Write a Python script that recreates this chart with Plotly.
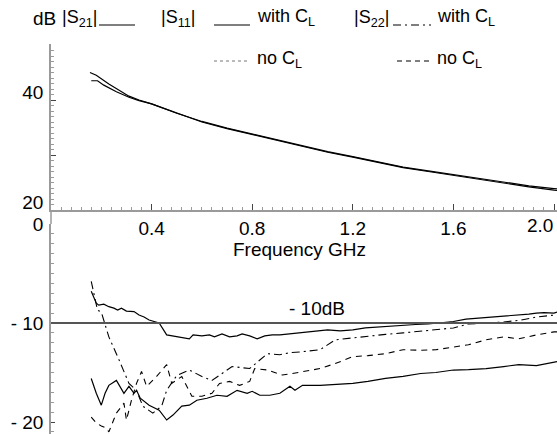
import plotly.graph_objects as go

# ---------------- data ----------------
f_s21 = [0.155, 0.18, 0.23, 0.31, 0.35, 0.4, 0.5, 0.6, 0.7, 0.8, 0.9, 1.0, 1.1, 1.2, 1.3, 1.4,
         1.5, 1.6, 1.7, 1.8, 1.9, 2.0, 2.012]
s21_with = [45.0, 44.5, 42.9, 40.7, 40.0, 39.3, 37.6, 36.1, 34.9, 33.8, 32.7, 31.7, 30.6, 29.7,
            28.7, 27.8, 27.1, 26.4, 25.7, 25.0, 24.4, 23.9, 23.85]
f_s21b = [0.16, 0.185, 0.21, 0.26, 0.31, 0.35, 0.4, 0.5, 0.6, 0.7, 0.8, 0.9, 1.0, 1.1, 1.2, 1.3,
          1.4, 1.5, 1.6, 1.7, 1.8, 1.9, 2.0, 2.012]
s21_no = [43.5, 43.5, 42.7, 41.5, 40.5, 39.9, 39.3, 37.6, 36.0, 34.8, 33.7, 32.6, 31.6, 30.5,
          29.6, 28.6, 27.7, 27.0, 26.3, 25.5, 24.8, 24.2, 23.6, 23.55]

f_s11w = [0.16, 0.18, 0.19, 0.21, 0.23, 0.25, 0.265, 0.28, 0.30, 0.33, 0.35, 0.37, 0.39, 0.43,
          0.46, 0.48, 0.51, 0.55, 0.565, 0.60, 0.63, 0.65, 0.68, 0.71, 0.74, 0.76, 0.79, 0.82,
          0.85, 0.88, 0.91, 0.95, 1.0, 1.05, 1.1, 1.15, 1.2, 1.25, 1.3, 1.35, 1.4, 1.45, 1.5,
          1.55, 1.6, 1.65, 1.7, 1.75, 1.8, 1.85, 1.9, 1.93, 1.96, 2.0, 2.012]
s11_with = [-6.8, -8.0, -8.2, -8.1, -8.35, -8.5, -8.7, -8.5, -8.8, -8.85, -9.2, -9.4, -9.7, -10.0,
            -11.2, -11.3, -11.4, -11.6, -11.2, -11.3, -11.2, -11.4, -11.1, -11.4, -11.3, -11.1,
            -11.3, -11.6, -11.3, -11.2, -11.2, -11.1, -11.0, -10.9, -10.7, -10.8, -10.7, -10.5,
            -10.4, -10.3, -10.25, -10.15, -10.1, -9.95, -9.85, -9.6, -9.5, -9.4, -9.35, -9.2,
            -9.1, -9.0, -8.95, -9.0, -8.9]

f_s11n = [0.16, 0.18, 0.20, 0.215, 0.23, 0.26, 0.29, 0.31, 0.33, 0.34, 0.355, 0.39, 0.43, 0.46,
          0.485, 0.52, 0.55, 0.58, 0.62, 0.66, 0.70, 0.74, 0.78, 0.80, 0.83, 0.87, 0.91, 0.95,
          0.97, 1.0, 1.07, 1.13, 1.2, 1.26, 1.33, 1.4, 1.47, 1.53, 1.6, 1.66, 1.73, 1.8, 1.86,
          1.93, 2.0, 2.012]
s11_no = [-15.6, -17.1, -18.3, -17.1, -16.3, -15.8, -17.1, -16.4, -17.1, -16.8, -17.6, -18.3,
          -18.8, -19.8, -19.3, -18.4, -18.3, -17.8, -17.6, -17.3, -17.4, -16.8, -17.1, -16.9,
          -17.3, -17.3, -17.1, -16.4, -16.8, -16.3, -16.3, -16.2, -16.1, -15.9, -15.6, -15.4,
          -15.1, -15.0, -14.75, -14.7, -14.6, -14.4, -14.2, -14.3, -13.9, -13.9]

f_s22w = [0.16, 0.175, 0.185, 0.20, 0.23, 0.27, 0.31, 0.34, 0.365, 0.405, 0.44, 0.46, 0.50, 0.55,
          0.60, 0.64, 0.68, 0.72, 0.79, 0.83, 0.86, 0.91, 0.95, 1.0, 1.07, 1.13, 1.2, 1.26, 1.33,
          1.4, 1.47, 1.53, 1.6, 1.66, 1.73, 1.8, 1.87, 1.93, 2.0, 2.012]
s22_with = [-5.8, -7.5, -8.7, -8.9, -11.4, -13.7, -16.1, -16.8, -18.4, -19.1, -18.4, -16.8, -15.3,
            -14.75, -15.4, -15.8, -15.1, -14.4, -14.6, -13.7, -13.1, -13.2, -13.0, -12.9, -12.7,
            -11.7, -11.5, -11.3, -11.15, -11.0, -10.85, -10.7, -10.5, -10.1, -10.0, -9.9, -9.7,
            -9.4, -9.2, -9.2]

f_s22n = [0.16, 0.18, 0.20, 0.22, 0.23, 0.26, 0.29, 0.30, 0.32, 0.34, 0.36, 0.38, 0.42, 0.46,
          0.48, 0.52, 0.56, 0.60, 0.64, 0.67, 0.71, 0.75, 0.79, 0.81, 0.86, 0.92, 0.96, 1.0, 1.07,
          1.13, 1.2, 1.26, 1.33, 1.4, 1.47, 1.53, 1.6, 1.66, 1.73, 1.8, 1.86, 1.93, 2.0, 2.012]
s22_no = [-19.5, -20.1, -20.4, -20.6, -21.0, -19.1, -18.1, -19.8, -17.8, -16.1, -14.9, -16.4,
          -15.4, -14.2, -16.1, -15.4, -17.4, -17.4, -17.1, -16.1, -15.9, -16.3, -15.9, -14.6,
          -14.75, -15.25, -15.1, -14.9, -14.6, -14.1, -13.4, -13.3, -13.1, -12.7, -12.75, -12.7,
          -12.4, -12.2, -11.7, -11.4, -11.6, -11.2, -10.9, -10.9]

x_ticks = [0.4, 0.8, 1.2, 1.6, 2.0]
x_ticktext = ["0.4", "0.8", "1.2", "1.6", ""]
x_last_label = "2.0"
top_ticks = [20, 30, 40, 50]
top_ticktext = ["20", "", "40", ""]
bot_ticks = [-20, -10, 0]
bot_ticktext = ["- 20", "- 10", "0"]
ref_level = -10

# ---------------- layout helpers ----------------
W, H = 557, 434
ML = 51
PW = W - ML


def px(x):
    return (x - ML) / PW


def py(y):
    return 1 - y / H


FONT = "Liberation Sans, Arial, sans-serif"
AX = "#9a9a9a"

fig = go.Figure()
black = dict(color="black", width=1.2)
fig.add_trace(go.Scatter(x=f_s21, y=s21_with, mode="lines", line=black, xaxis="x", yaxis="y"))
fig.add_trace(go.Scatter(x=f_s21b, y=s21_no, mode="lines", line=black, xaxis="x", yaxis="y"))
fig.add_trace(go.Scatter(x=f_s11w, y=s11_with, mode="lines", line=black, xaxis="x2", yaxis="y2"))
fig.add_trace(go.Scatter(x=f_s11n, y=s11_no, mode="lines", line=black, xaxis="x2", yaxis="y2"))
fig.add_trace(go.Scatter(x=f_s22w, y=s22_with, mode="lines",
                         line=dict(color="black", width=1.1, dash="8px,4px,2px,4px"),
                         xaxis="x2", yaxis="y2"))
fig.add_trace(go.Scatter(x=f_s22n, y=s22_no, mode="lines",
                         line=dict(color="black", width=1.1, dash="6px,5px"),
                         xaxis="x2", yaxis="y2"))

xr = [0, (W - ML) / 251.5]
fig.update_layout(
    width=W, height=H,
    margin=dict(l=ML, r=0, t=0, b=0, autoexpand=False),
    paper_bgcolor="white", plot_bgcolor="white",
    showlegend=False,
    font=dict(family=FONT, size=19, color="black"),
    xaxis=dict(domain=[0, 1], range=xr, anchor="y", showgrid=False, zeroline=False,
               automargin=False,
               showline=True, linecolor=AX, linewidth=1.5,
               tickvals=x_ticks, ticktext=x_ticktext, ticks="inside", ticklen=6,
               tickcolor="#444", tickwidth=1.2, ticklabeloverflow="allow",
               minor=dict(dtick=0.04, tick0=0, ticks="inside", ticklen=3, tickcolor=AX)),
    yaxis=dict(domain=[py(210), py(44)], range=[20, 20 + 166 / 5.5], anchor="x",
               automargin=False,
               showgrid=False, zeroline=False, showline=True, linecolor=AX, linewidth=1.5,
               tickvals=top_ticks, ticktext=top_ticktext, ticks="inside", ticklen=5,
               tickcolor="#444", ticklabelshift=-8, ticklabelstandoff=2,
               minor=dict(dtick=1, ticks="inside", ticklen=3, tickcolor=AX)),
    xaxis2=dict(domain=[0, 1], range=xr, anchor="y2", visible=False, matches="x",
                automargin=False),
    yaxis2=dict(domain=[0, py(224)], range=[-(434 - 224) / 9.9, 0], anchor="x2",
                automargin=False,
                showgrid=False, zeroline=False, showline=True, linecolor=AX, linewidth=1.5,
                tickvals=bot_ticks, ticktext=bot_ticktext, ticks="inside", ticklen=4,
                tickcolor="#444", ticklabelstandoff=2,
                minor=dict(dtick=1, ticks="inside", ticklen=3, tickcolor=AX)),
)

# continuous left axis through the gap
fig.add_shape(type="line", xref="paper", yref="paper", x0=0, x1=0, y0=py(224), y1=py(210),
              line=dict(color=AX, width=1.5))
# -10 dB reference line
fig.add_shape(type="line", xref="paper", yref="y2", x0=0, x1=1, y0=ref_level, y1=ref_level,
              line=dict(color="#555555", width=2))


def txt(x, y, s, anchor="left", size=18):
    fig.add_annotation(x=px(x), y=py(y), xref="paper", yref="paper", text=s, showarrow=False,
                       xanchor=anchor, yanchor="middle", font=dict(size=size))


def seg(x0, x1, y, dash="solid", color="black", width=1.2):
    fig.add_shape(type="line", xref="paper", yref="paper", x0=px(x0), x1=px(x1), y0=py(y),
                  y1=py(y), line=dict(color=color, width=width, dash=dash))


# last x tick label (kept inside the page, as in the reference)
fig.add_annotation(x=2.0, y=py(225), xref="x", yref="paper", text=x_last_label,
                   showarrow=False, xanchor="center", yanchor="middle", xshift=-14,
                   font=dict(size=19))
# axis title and reference label
txt(299, 250, "Frequency GHz", anchor="center", size=19)
txt(317, 308, "- 10dB", anchor="center", size=19)

# legend-like header
txt(31, 19, "dB", size=19)
txt(60, 18, "|S<sub>21</sub>|")
seg(99, 135, 25)
txt(159, 18, "|S<sub>11</sub>|")
seg(214, 250, 25)
txt(255, 17, "with C<sub>L</sub>")
txt(352, 18, "|S<sub>22</sub>|")
seg(393, 431, 25, dash="8px,4px,2px,4px")
txt(435, 17, "with C<sub>L</sub>")
seg(214, 250, 61, dash="dot", color="#777", width=1)
txt(255, 59, "no C<sub>L</sub>")
seg(397, 430, 61, dash="5px,4px")
txt(435, 59, "no C<sub>L</sub>")

fig.write_html("out.html", config={"displayModeBar": False},
               post_script="document.body.style.margin='0';document.body.style.overflow='hidden';")
